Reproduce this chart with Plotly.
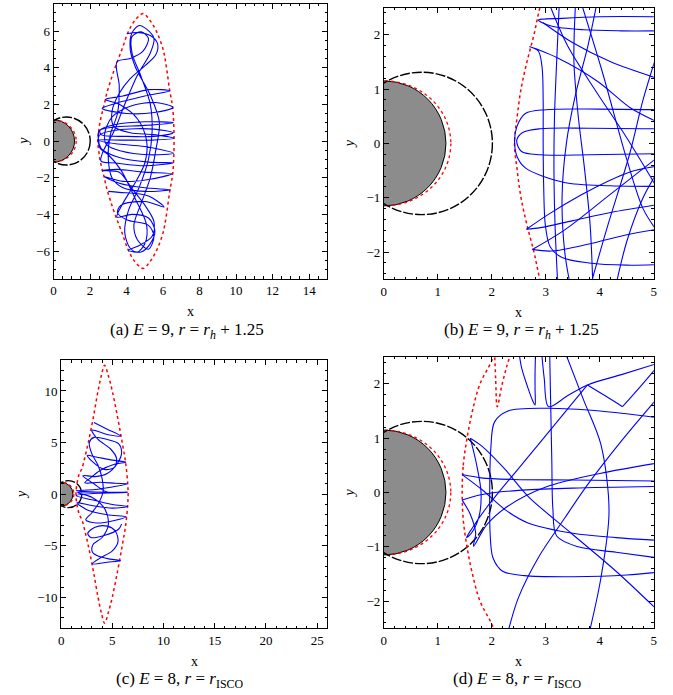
import plotly.graph_objects as go

W, H = 673, 695
FONT = "Liberation Serif, Times New Roman, DejaVu Serif, serif"

# ---------------- data ----------------
horizon_radius = 1.15
turn_rx, turn_ry = 1.24, 1.15          # red dotted curve hugging the horizon
dashed_center, dashed_radius = 0.70, 1.31

# zero-velocity boundary, E = 9 (panels a, b)
lens_ab_x = [2.42, 2.47, 2.54, 2.65, 2.78, 2.89, 3.10, 3.38, 3.75, 4.10, 4.46, 4.91,
             5.28, 5.65, 6.00, 6.18, 6.36, 6.52, 6.58, 6.60,
             6.58, 6.52, 6.36, 6.18, 6.00, 5.65, 5.28, 4.91,
             4.46, 4.10, 3.75, 3.38, 3.10, 2.89, 2.78, 2.65, 2.54, 2.47, 2.42]
lens_ab_y = [0.0, 0.5, 1.0, 1.5, 2.0, 2.5, 3.2, 4.04, 5.0, 5.97, 6.58, 6.95,
             6.58, 5.95, 5.0, 4.04, 2.77, 1.85, 1.0, 0.0,
             -1.0, -1.85, -2.77, -4.04, -5.0, -5.95, -6.58, -6.95,
             -6.58, -5.97, -5.0, -4.04, -3.2, -2.5, -2.0, -1.5, -1.0, -0.5, 0.0]

# zero-velocity boundary, E = 8 (panels c, d)
lens_cd_x = [1.45, 1.47, 1.54, 1.64, 1.78, 2.03, 2.30, 2.65, 3.15, 3.60, 3.95, 4.24,
             4.60, 4.99, 5.50, 5.96, 6.30, 6.50, 6.54,
             6.50, 6.30, 5.96, 5.50, 4.99, 4.60, 4.24,
             3.95, 3.60, 3.15, 2.65, 2.30, 2.03, 1.78, 1.64, 1.54, 1.47, 1.45]
lens_cd_y = [0.0, 0.5, 1.0, 1.5, 2.0, 2.5, 3.5, 5.0, 7.5, 10.0, 11.6, 12.5,
             11.5, 10.0, 7.5, 5.0, 3.0, 1.0, 0.0,
             -1.0, -3.0, -5.0, -7.5, -10.0, -11.5, -12.5,
             -11.6, -10.0, -7.5, -5.0, -3.5, -2.5, -2.0, -1.5, -1.0, -0.5, 0.0]
notch_x = [2.05, 2.07, 2.10, 2.18, 2.27, 2.36]
notch_y = [2.6, 2.1, 1.58, 1.95, 2.3, 2.6]

# trajectory, panel (a)
traj_a_x = [4.01, 4.60, 5.30, 5.70, 5.60, 5.00, 4.20, 3.60, 3.20, 3.30, 4.20, 5.50, 6.60, 5.40, 3.80,
            2.42, 3.40, 5.00, 6.58, 5.20, 3.70, 2.90, 2.80, 3.20, 4.20, 5.60, 6.54, 5.50, 4.00, 2.66,
            3.40, 5.00, 6.36, 5.20, 3.80, 2.84, 3.60, 4.60, 5.10, 5.00, 4.40, 3.80, 3.47, 4.30, 5.20,
            5.55, 5.30, 4.80, 4.10, 4.70, 5.40, 5.50, 5.00, 4.30, 3.60, 2.66, 3.50, 5.00, 6.49, 5.20,
            3.80, 2.78, 3.60, 5.00, 6.41, 5.00, 3.80, 3.20, 3.00, 3.10, 3.50, 3.60, 3.47, 4.20, 4.90,
            5.20, 4.80, 4.30, 4.30, 4.80, 5.30, 5.40, 5.20, 4.70, 4.10, 3.90, 4.20, 4.60, 5.00, 5.10,
            4.50, 3.70, 3.00, 2.55, 2.50, 3.50, 5.50, 6.55, 5.50, 4.00, 2.60, 2.55, 3.40, 5.00, 6.56,
            5.00, 3.20, 2.50, 2.60, 3.60, 5.20, 6.55, 5.00, 3.40, 2.60, 2.70, 3.30, 3.90, 4.60, 5.30,
            5.50, 5.10, 4.70, 4.30, 4.20, 4.50, 5.30, 5.80, 5.60, 5.30, 4.80, 4.40, 4.60, 5.20, 5.50,
            5.20, 4.00, 3.50, 3.70, 5.00, 6.05, 5.20, 3.60, 3.00]
traj_a_y = [5.85, 5.92, 5.75, 5.30, 4.70, 4.10, 3.40, 2.60, 1.60, 0.80, 0.45, 0.35, 0.15, 0.05, 0.05,
            0.05, -0.15, -0.30, -0.67, -0.75, -0.55, -0.20, 0.40, 1.30, 1.90, 2.10, 1.83, 1.55, 1.50, 1.78,
            2.05, 2.45, 2.74, 2.80, 2.45, 2.26, 2.00, 1.20, 0.00, -1.20, -2.40, -3.40, -4.15, -4.00, -4.20,
            -4.90, -5.60, -6.05, -5.96, -5.70, -5.20, -4.40, -3.50, -2.60, -1.70, -1.61, -1.55, -1.70, -1.79, -2.10,
            -2.20, -1.94, -2.30, -2.55, -2.66, -2.75, -2.55, -2.00, -1.00, 0.30, 1.50, 3.00, 4.31, 4.50, 4.90,
            5.60, 5.95, 5.70, 4.80, 3.50, 2.00, 0.50, -1.00, -2.50, -3.80, -5.00, -5.85, -6.05, -5.60, -4.60,
            -3.20, -1.60, -0.75, -0.40, 0.30, 0.60, 0.65, 0.45, 0.25, 0.25, 0.35, 0.60, 0.90, 1.05, 1.00,
            0.85, 0.75, 0.55, -0.40, -0.90, -1.15, -1.20, -1.35, -1.20, -1.10, -0.60, 0.50, 2.00, 3.60, 4.80,
            5.60, 6.10, 6.30, 5.90, 5.00, 4.00, 2.50, 1.00, -0.50, -2.00, -3.40, -4.60, -5.40, -5.90, -5.20,
            -4.60, -4.30, -3.90, -3.50, -3.30, -3.60, -3.00, -2.80, -2.75]

# trajectory pieces inside the window of panel (b)
traj_b_x = [5.05, 4.0, 3.3, 2.86, 3.1, 3.7, 4.4, 5.05, None,
            5.05, 4.57, 3.96, 3.22, 2.70, 2.86, 2.93, 2.95, 2.95, 2.96, 2.99, 3.08, 3.3, 3.8, 4.5, 5.05, None,
            5.05, 4.0, 3.0, 2.62, 2.46, 2.42, 2.47, 2.62, 3.34, 4.2, 5.05, None,
            5.05, 3.8, 2.9, 2.57, 2.46, 2.55, 2.9, 3.8, 5.05, None,
            2.64, 3.04, 3.65, 4.14, 4.57, 5.05, None,
            2.64, 2.9, 3.5, 4.2, 5.05, None,
            2.75, 3.35, 4.14, 5.05, None,
            2.75, 3.1, 3.8, 4.5, 5.05, None,
            3.25, 3.2, 3.16, 3.15, 3.17, 3.22, None,
            3.55, 3.52, 3.6, 3.72, 3.82, 3.87, None,
            3.95, 3.78, 3.55, 3.38, 3.3, 3.35, 3.45, None,
            3.05, 3.4, 3.9, 4.5, 5.05, None,
            3.83, 4.15, 4.55, 4.8, 5.05, None,
            3.65, 4.05, 4.5, 4.8, 5.05, None,
            4.3, 4.5, 4.8, 5.05, None,
            2.95, 3.5, 4.2, 5.05]
traj_b_y = [2.33, 2.33, 2.30, 2.27, 2.16, 2.09, 2.07, 2.07, None,
            0.40, 0.65, 1.14, 1.57, 1.78, 1.70, 1.40, 0.80, 0.0, -0.8, -1.5, -1.9, -2.1, -2.2, -2.24, -2.23, None,
            0.62, 0.63, 0.62, 0.55, 0.30, 0.03, -0.25, -0.45, -0.72, -0.78, -0.79, None,
            0.27, 0.28, 0.27, 0.20, 0.05, -0.15, -0.21, -0.21, -0.19, None,
            -1.58, -1.31, -0.95, -0.70, -0.52, -0.42, None,
            -1.58, -1.55, -1.42, -1.27, -1.13, None,
            -1.95, -1.59, -0.98, -0.27, None,
            -1.95, -1.98, -1.85, -1.68, -1.58, None,
            2.6, 1.5, 0.5, -0.5, -1.5, -2.6, None,
            2.6, 1.5, 0.5, -0.5, -1.5, -2.6, None,
            2.6, 1.8, 0.9, 0.0, -1.0, -2.0, -2.6, None,
            2.6, 1.8, 1.0, 0.1, -0.8, None,
            -2.6, -1.5, -0.2, 0.8, 1.62, None,
            2.6, 1.3, -0.3, -1.2, -1.6, None,
            -2.6, -1.8, -1.0, -0.55, None,
            2.22, 1.85, 1.5, 1.2]

# trajectory, panel (c)
traj_c_x = [3.20, 4.50, 5.80, 4.60, 3.00, 3.60, 4.80, 5.40, 5.20, 4.20, 3.00, 2.55, 3.40, 5.00, 6.30,
            5.20, 3.80, 2.90, 2.30, 3.80, 5.30, 6.50, 5.00, 3.30, 1.45, 3.50, 6.45, 4.00, 1.45, 3.00,
            5.00, 6.50, 5.00, 3.00, 1.53, 2.50, 4.50, 6.35, 5.20, 3.50, 2.40, 3.00, 3.70, 4.10, 4.00,
            3.60, 3.00, 2.75, 3.20, 4.50, 5.60, 5.90, 5.50, 4.50, 3.30, 2.10, 3.20, 4.50, 6.45, 4.50,
            1.60, 3.00, 4.30, 4.60, 4.00, 3.10, 3.05, 3.60, 4.80, 5.80, 4.50, 3.05, 3.80, 5.00, 5.55,
            5.30, 4.50, 3.30, 2.60, 2.90, 4.20, 5.60, 5.90]
traj_c_y = [6.95, 6.30, 5.65, 5.75, 6.20, 5.30, 4.40, 3.50, 2.60, 2.40, 3.20, 3.75, 3.60, 3.30, 3.10,
            2.90, 2.30, 1.60, 1.10, 1.15, 1.05, 1.00, 0.70, 0.45, 0.33, 0.20, 0.15, 0.10, -0.14, -0.55,
            -1.00, -1.20, -1.35, -1.10, -0.83, -1.50, -2.00, -2.20, -2.55, -2.80, -2.50, -1.80, -0.80, 0.30, 1.50,
            2.80, 3.90, 5.00, 5.50, 5.30, 4.90, 4.00, 3.00, 2.00, 1.70, 1.80, 1.00, 0.20, 0.20, 0.18,
            0.15, -0.30, -1.50, -3.00, -4.20, -4.90, -5.60, -6.00, -6.30, -6.45, -6.60, -6.75, -6.20, -5.50, -4.60,
            -3.60, -3.10, -3.20, -3.80, -4.20, -4.00, -3.40, -2.90]

# trajectory pieces inside the window of panel (d)
traj_d_x = [2.50, 2.55, 2.66, 2.76, 2.80, 2.80, 2.80, 2.81, None,
            2.92, 2.97, 3.05, 3.40, 3.77, 4.40, 5.05, None,
            3.07, 3.09, 3.11, 3.13, 3.20, 3.60, 4.30, 5.05, None,
            1.60, 1.72, 1.80, 1.76, 1.62, 1.53, 1.62, 1.90, 2.86, 3.77, None,
            3.77, 4.10, 4.42, None,
            4.42, 4.75, 5.05, None,
            5.05, 4.0, 3.0, 2.3, 2.05, 1.98, 1.96, 1.97, 2.02, 2.2, 2.6, 3.5, 4.5, 5.05, None,
            3.35, 3.70, 4.02, 4.17, 4.02, 3.80, None,
            2.29, 2.49, 2.86, 3.35, 3.77, 4.40, 5.05, None,
            1.60, 1.82, 2.25, 2.67, 3.47, 4.30, 5.05, None,
            1.45, 1.82, 2.25, 2.67, 3.50, 4.30, 5.05, None,
            1.45, 1.80, 2.40, 3.50, 5.05, None,
            1.45, 1.80, 2.50, 3.50, 5.05, None,
            1.45, 1.60, 1.70, 1.66, 1.90, 2.30, 3.00, 4.00, 5.05]
traj_d_y = [2.6, 2.3, 1.95, 1.68, 1.61, 1.9, 2.2, 2.6, None,
            2.6, 2.1, 1.58, 1.78, 1.98, 2.17, 2.37, None,
            2.6, 1.6, 0.6, -0.3, -0.8, -1.0, -1.1, -1.2, None,
            1.0, 0.5, 0.0, -0.45, -0.75, -0.83, -0.68, -0.28, 0.88, 1.98, None,
            1.98, 1.78, 1.58, None,
            1.58, 1.95, 2.3, None,
            1.38, 1.5, 1.55, 1.5, 1.3, 0.8, 0.0, -0.8, -1.2, -1.45, -1.53, -1.55, -1.52, -1.47, None,
            2.6, 1.7, 0.88, -0.35, -1.57, -2.6, None,
            -2.6, -1.94, -1.2, -0.47, 0.14, 0.95, 1.72, None,
            1.0, 0.85, 0.42, -0.07, -0.75, -1.45, -2.15, None,
            0.33, 0.05, -0.32, -0.56, -0.75, -0.83, -0.88, None,
            0.33, 0.27, 0.24, 0.23, 0.21, None,
            -0.14, -0.04, 0.04, 0.08, 0.11, None,
            -0.14, -0.4, -0.75, -0.99, -0.6, -0.25, 0.1, 0.35, 0.54]

# ---------------- panel setup ----------------
panels = [
    dict(px=(51, 327.3), py=(3.5, 278.5), xr=(0, 15), yr=(-7.5, 7.5), dx=2, mx=0.5, dy=2, my=0.5,
         lens=(lens_ab_x, lens_ab_y), notch=False, traj=(traj_a_x, traj_a_y),
         cap="(a) <i>E</i> = 9, <i>r</i> = <i>r</i><sub><i>h</i></sub> + 1.25", capx=185.5, ytx=20),
    dict(px=(384.3, 656.7), py=(7.5, 279.3), xr=(0, 5), yr=(-2.5, 2.5), dx=1, mx=0.2, dy=1, my=0.2,
         lens=(lens_ab_x, lens_ab_y), notch=False, traj=(traj_b_x, traj_b_y),
         cap="(b) <i>E</i> = 9, <i>r</i> = <i>r</i><sub><i>h</i></sub> + 1.25", capx=523, ytx=350),
    dict(px=(58.7, 327.3), py=(360, 628.3), xr=(0, 26), yr=(-13, 13), dx=5, mx=1, dy=5, my=1,
         lens=(lens_cd_x, lens_cd_y), notch=False, traj=(traj_c_x, traj_c_y),
         cap="(c) <i>E</i> = 8, <i>r</i> = <i>r</i><sub>ISCO</sub>", capx=178, ytx=18),
    dict(px=(384.3, 656.7), py=(356.7, 628.3), xr=(0, 5), yr=(-2.5, 2.5), dx=1, mx=0.2, dy=1, my=0.2,
         lens=(lens_cd_x, lens_cd_y), notch=True, traj=(traj_d_x, traj_d_y),
         cap="(d) <i>E</i> = 8, <i>r</i> = <i>r</i><sub>ISCO</sub>", capx=519, ytx=350),
]

fig = go.Figure()
shapes = []
annotations = []
BLUE = "rgb(0,0,255)"
RED = "rgb(255,0,0)"

for i, p in enumerate(panels):
    n = "" if i == 0 else str(i + 1)
    xa, ya = "x" + n, "y" + n
    xdom = [p["px"][0] / W, p["px"][1] / W]
    ydom = [1 - p["py"][1] / H, 1 - p["py"][0] / H]
    common = dict(showline=True, linecolor="black", linewidth=1, mirror="ticks",
                  ticks="inside", ticklen=5, tickwidth=1, tickcolor="black",
                  showgrid=False, zeroline=False, tick0=0,
                  tickfont=dict(family=FONT, size=13, color="black"))
    fig.layout["xaxis" + n] = dict(common, domain=xdom, range=list(p["xr"]), dtick=p["dx"],
                                   anchor=ya, minor=dict(ticks="inside", ticklen=2.5, dtick=p["mx"],
                                                         tickcolor="black", tick0=0))
    fig.layout["yaxis" + n] = dict(common, domain=ydom, range=list(p["yr"]), dtick=p["dy"],
                                   anchor=xa, minor=dict(ticks="inside", ticklen=2.5, dtick=p["my"],
                                                         tickcolor="black", tick0=0))

    shapes.append(dict(type="circle", xref=xa, yref=ya, layer="below",
                       x0=-horizon_radius, x1=horizon_radius, y0=-horizon_radius, y1=horizon_radius,
                       fillcolor="#8c8c8c", line=dict(color="black", width=1)))
    shapes.append(dict(type="circle", xref=xa, yref=ya, layer="below",
                       x0=-turn_rx, x1=turn_rx, y0=-turn_ry, y1=turn_ry,
                       line=dict(color=RED, width=1.3, dash="dot")))
    shapes.append(dict(type="circle", xref=xa, yref=ya, layer="below",
                       x0=dashed_center - dashed_radius, x1=dashed_center + dashed_radius,
                       y0=-dashed_radius, y1=dashed_radius,
                       line=dict(color="black", width=1.4, dash="10px,2px")))

    lx, ly = p["lens"]
    fig.add_trace(go.Scatter(x=lx, y=ly, mode="lines", xaxis=xa, yaxis=ya, showlegend=False,
                             line=dict(color=RED, width=1.5, dash="dot", shape="spline"),
                             hoverinfo="skip"))
    if p["notch"]:
        fig.add_trace(go.Scatter(x=notch_x, y=notch_y, mode="lines", xaxis=xa, yaxis=ya,
                                 showlegend=False, hoverinfo="skip",
                                 line=dict(color=RED, width=1.5, dash="dot", shape="spline")))
    tx, ty = p["traj"]
    fig.add_trace(go.Scatter(x=tx, y=ty, mode="lines", xaxis=xa, yaxis=ya, showlegend=False,
                             connectgaps=False, hoverinfo="skip",
                             line=dict(color=BLUE, width=1.1, shape="spline", smoothing=0.9)))

    bottom = p["py"][1]
    annotations.append(dict(text="x", xref="paper", yref="paper",
                            x=(p["px"][0] + p["px"][1]) / 2 / W, y=1 - (bottom + 33) / H,
                            showarrow=False, font=dict(family=FONT, size=14, color="black"),
                            xanchor="center", yanchor="middle"))
    annotations.append(dict(text="<i>y</i>", xref="paper", yref="paper",
                            x=p["ytx"] / W, y=1 - (p["py"][0] + p["py"][1]) / 2 / H,
                            showarrow=False, textangle=-90,
                            font=dict(family=FONT, size=14, color="black"),
                            xanchor="center", yanchor="middle"))
    annotations.append(dict(text=p["cap"], xref="paper", yref="paper",
                            x=p["capx"] / W, y=1 - (bottom + 52) / H,
                            showarrow=False, font=dict(family=FONT, size=17, color="black"),
                            xanchor="center", yanchor="middle"))

fig.update_layout(width=W, height=H, margin=dict(l=0, r=0, t=0, b=0),
                  paper_bgcolor="white", plot_bgcolor="white", hovermode=False,
                  shapes=shapes, annotations=annotations, showlegend=False)

fig.write_html("out.html", config={"displayModeBar": False},
               post_script="document.body.style.margin='0';document.body.style.padding='0';")
